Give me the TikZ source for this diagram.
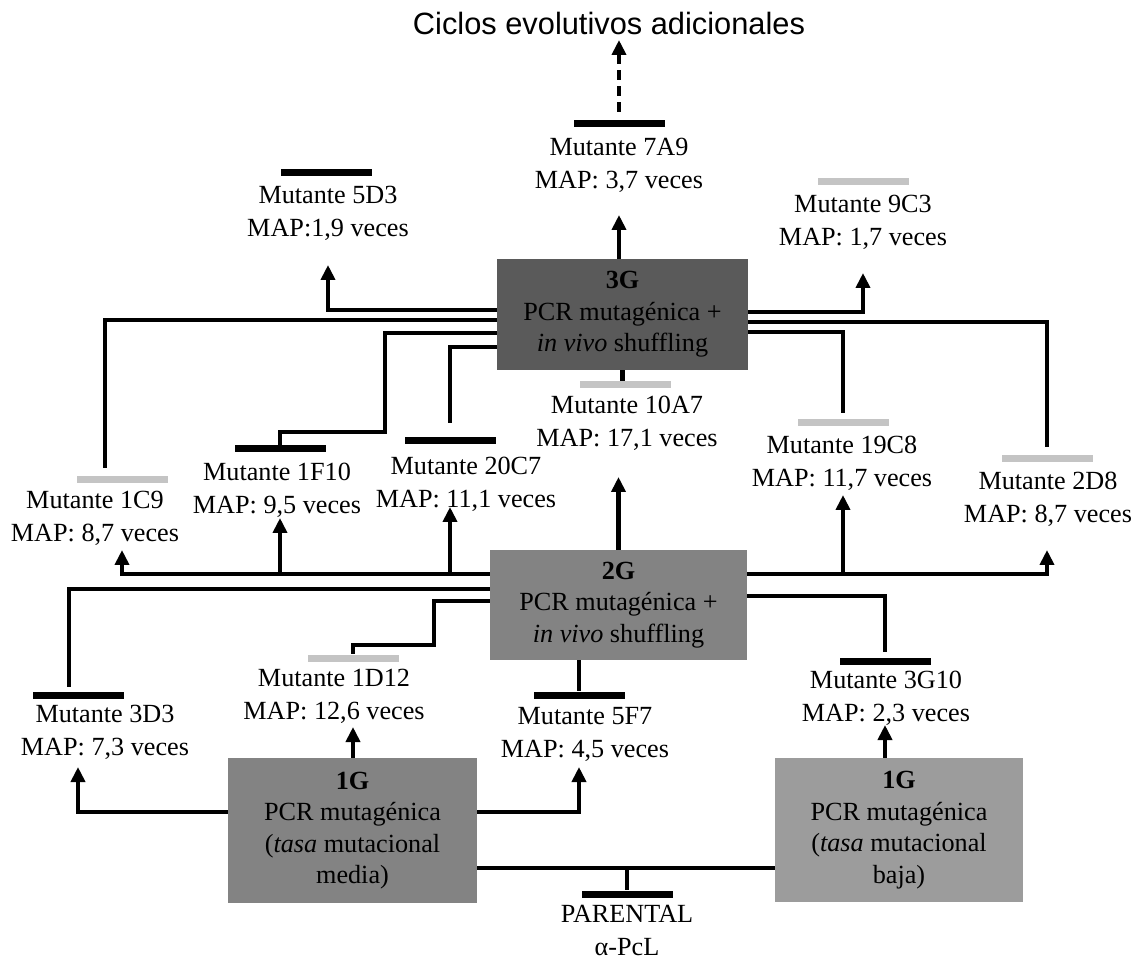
\documentclass[tikz,border=0pt]{standalone}
\usepackage{fontspec}
\setmainfont{Liberation Serif}
\newfontfamily\titlefont{Liberation Sans}
\usetikzlibrary{arrows.meta,positioning}
\definecolor{gendark}{HTML}{5A5A5A}
\definecolor{genmid}{HTML}{838383}
\definecolor{genlight}{HTML}{9C9C9C}
\definecolor{barfaded}{HTML}{C4C4C4}
\newcommand\mutfont{\fontsize{13.1}{16.5}\selectfont}
\newcommand\boxfont{\fontsize{13.1}{15.75}\selectfont}
\tikzset{
  genbox/.style={rectangle,inner sep=0pt,align=center,font=\boxfont},
  mutlabel/.style={align=center,inner sep=0pt,font=\mutfont},
  bar/.style={rectangle,fill=black,minimum width=45.5pt,minimum height=3.5pt,inner sep=0pt},
  fadedbar/.style={bar,fill=barfaded},
  link/.style={line width=2.2pt},
  flow/.style={-{Triangle[length=7.5pt,width=7pt]},line width=2.2pt},
  dashflow/.style={flow,dash pattern=on 5pt off 3pt},
}
\begin{document}
\begin{tikzpicture}[x=0.5pt,y=-0.5pt]
  \useasboundingbox (0,0) rectangle (1141,962);
  \node[font=\titlefont\fontsize{15.4}{18}\selectfont] (ciclos) at (609,23) {Ciclos evolutivos adicionales};
  % generaciones
  \node[genbox,fill=gendark,minimum width=125.5pt,minimum height=55.5pt] (g3) at (622.5,314.5)
    {\textbf{3G}\\PCR mutagénica +\\\textit{in vivo} shuffling};
  \node[genbox,fill=genmid,minimum width=128.5pt,minimum height=55pt] (g2) at (618.5,605)
    {\textbf{2G}\\PCR mutagénica +\\\textit{in vivo} shuffling};
  \node[genbox,fill=genmid,minimum width=124.5pt,minimum height=72.5pt] (g1a) at (352.5,830.5)
    {\textbf{1G}\\PCR mutagénica\\(\textit{tasa} mutacional\\media)};
  \node[genbox,fill=genlight,minimum width=124pt,minimum height=72pt] (g1b) at (899,830)
    {\textbf{1G}\\PCR mutagénica\\(\textit{tasa} mutacional\\baja)};
  % mutantes
  \node[bar] (b7A9) at (619,124) {};
  \node[mutlabel] (m7A9) at (619,165) {Mutante 7A9\\MAP: 3,7 veces};
  \node[bar] (b5D3) at (326,173) {};
  \node[mutlabel] (m5D3) at (328,213.5) {Mutante 5D3\\MAP:1,9 veces};
  \node[fadedbar] (b9C3) at (863,182) {};
  \node[mutlabel] (m9C3) at (863,222.5) {Mutante 9C3\\MAP: 1,7 veces};
  \node[fadedbar] (b10A7) at (625,385) {};
  \node[mutlabel] (m10A7) at (627,423.5) {Mutante 10A7\\MAP: 17,1 veces};
  \node[fadedbar] (b1C9) at (122,480) {};
  \node[mutlabel] (m1C9) at (95,518.5) {Mutante 1C9\\MAP: 8,7 veces};
  \node[bar] (b1F10) at (280,449) {};
  \node[mutlabel] (m1F10) at (277,490) {Mutante 1F10\\MAP: 9,5 veces};
  \node[bar] (b20C7) at (450,441) {};
  \node[mutlabel] (m20C7) at (466,484) {Mutante 20C7\\MAP: 11,1 veces};
  \node[fadedbar] (b19C8) at (843,423) {};
  \node[mutlabel] (m19C8) at (842,463.5) {Mutante 19C8\\MAP: 11,7 veces};
  \node[fadedbar] (b2D8) at (1047,459) {};
  \node[mutlabel] (m2D8) at (1048,499.5) {Mutante 2D8\\MAP: 8,7 veces};
  \node[bar] (b3D3) at (78,695) {};
  \node[mutlabel] (m3D3) at (105,732.5) {Mutante 3D3\\MAP: 7,3 veces};
  \node[fadedbar] (b1D12) at (353,658) {};
  \node[mutlabel] (m1D12) at (334,696) {Mutante 1D12\\MAP: 12,6 veces};
  \node[bar] (b5F7) at (579,695) {};
  \node[mutlabel] (m5F7) at (585,734) {Mutante 5F7\\MAP: 4,5 veces};
  \node[bar] (b3G10) at (885,661) {};
  \node[mutlabel] (m3G10) at (886,698) {Mutante 3G10\\MAP: 2,3 veces};
  \node[bar] (bpar) at (627,894) {};
  \node[mutlabel] (par) at (627,930) {PARENTAL\\α-PcL};
  % 3G
  \draw[dashflow] (b7A9 |- 0,112) -- (b7A9 |- 0,40);
  \draw[flow] (g3.north -| b7A9) -- (b7A9 |- 0,215);
  \draw[flow] (g3.west |- 0,310) -| (m5D3 |- 0,265);
  \draw[flow] (g3.east |- 0,312) -| (m9C3 |- 0,273);
  \draw[link] (g3.west |- 0,320) -| (105,468);
  \draw[link] (g3.west |- 0,333) -| (385,432) -| (b1F10.north);
  \draw[link] (g3.west |- 0,347) -| (b20C7 |- 0,423);
  \draw[link] (g3.south) -- (g3.south |- b10A7.north);
  \draw[link] (g3.east |- 0,332) -| (b19C8 |- 0,413);
  \draw[link] (g3.east |- 0,322) -| (b2D8 |- 0,447);
  % 2G
  \draw[flow] (g2.north) -- (g2.north |- 0,477);
  \draw[flow] (g2.west |- 0,574) -| (b1C9 |- 0,550);
  \draw[flow] (b1F10 |- 0,574) -- (b1F10 |- 0,518);
  \draw[flow] (b20C7 |- 0,574) -- (b20C7 |- 0,507);
  \draw[flow] (g2.east |- 0,574) -| (b2D8 |- 0,550);
  \draw[flow] (b19C8 |- 0,574) -- (b19C8 |- 0,495);
  \draw[link] (g2.west |- 0,589) -| (69,687);
  \draw[link] (g2.west |- 0,601) -| (434,645) -| (b1D12.north);
  \draw[link] (g2.east |- 0,596) -| (b3G10 |- 0,652);
  \draw[link] (g2.south -| b5F7) -- (b5F7.north);
  % 1G
  \draw[flow] (g1a.north -| b1D12) -- (b1D12 |- 0,727);
  \draw[flow] (g1a.west |- 0,812) -| (b3D3 |- 0,767);
  \draw[flow] (g1a.east |- 0,812) -| (b5F7 |- 0,767);
  \draw[flow] (g1b.north -| b3G10) -- (b3G10 |- 0,725);
  \draw[link] (g1a.east |- 0,868) -- (g1b.west |- 0,868);
  \draw[link] (bpar |- 0,868) -- (bpar.north);
\end{tikzpicture}
\end{document}
